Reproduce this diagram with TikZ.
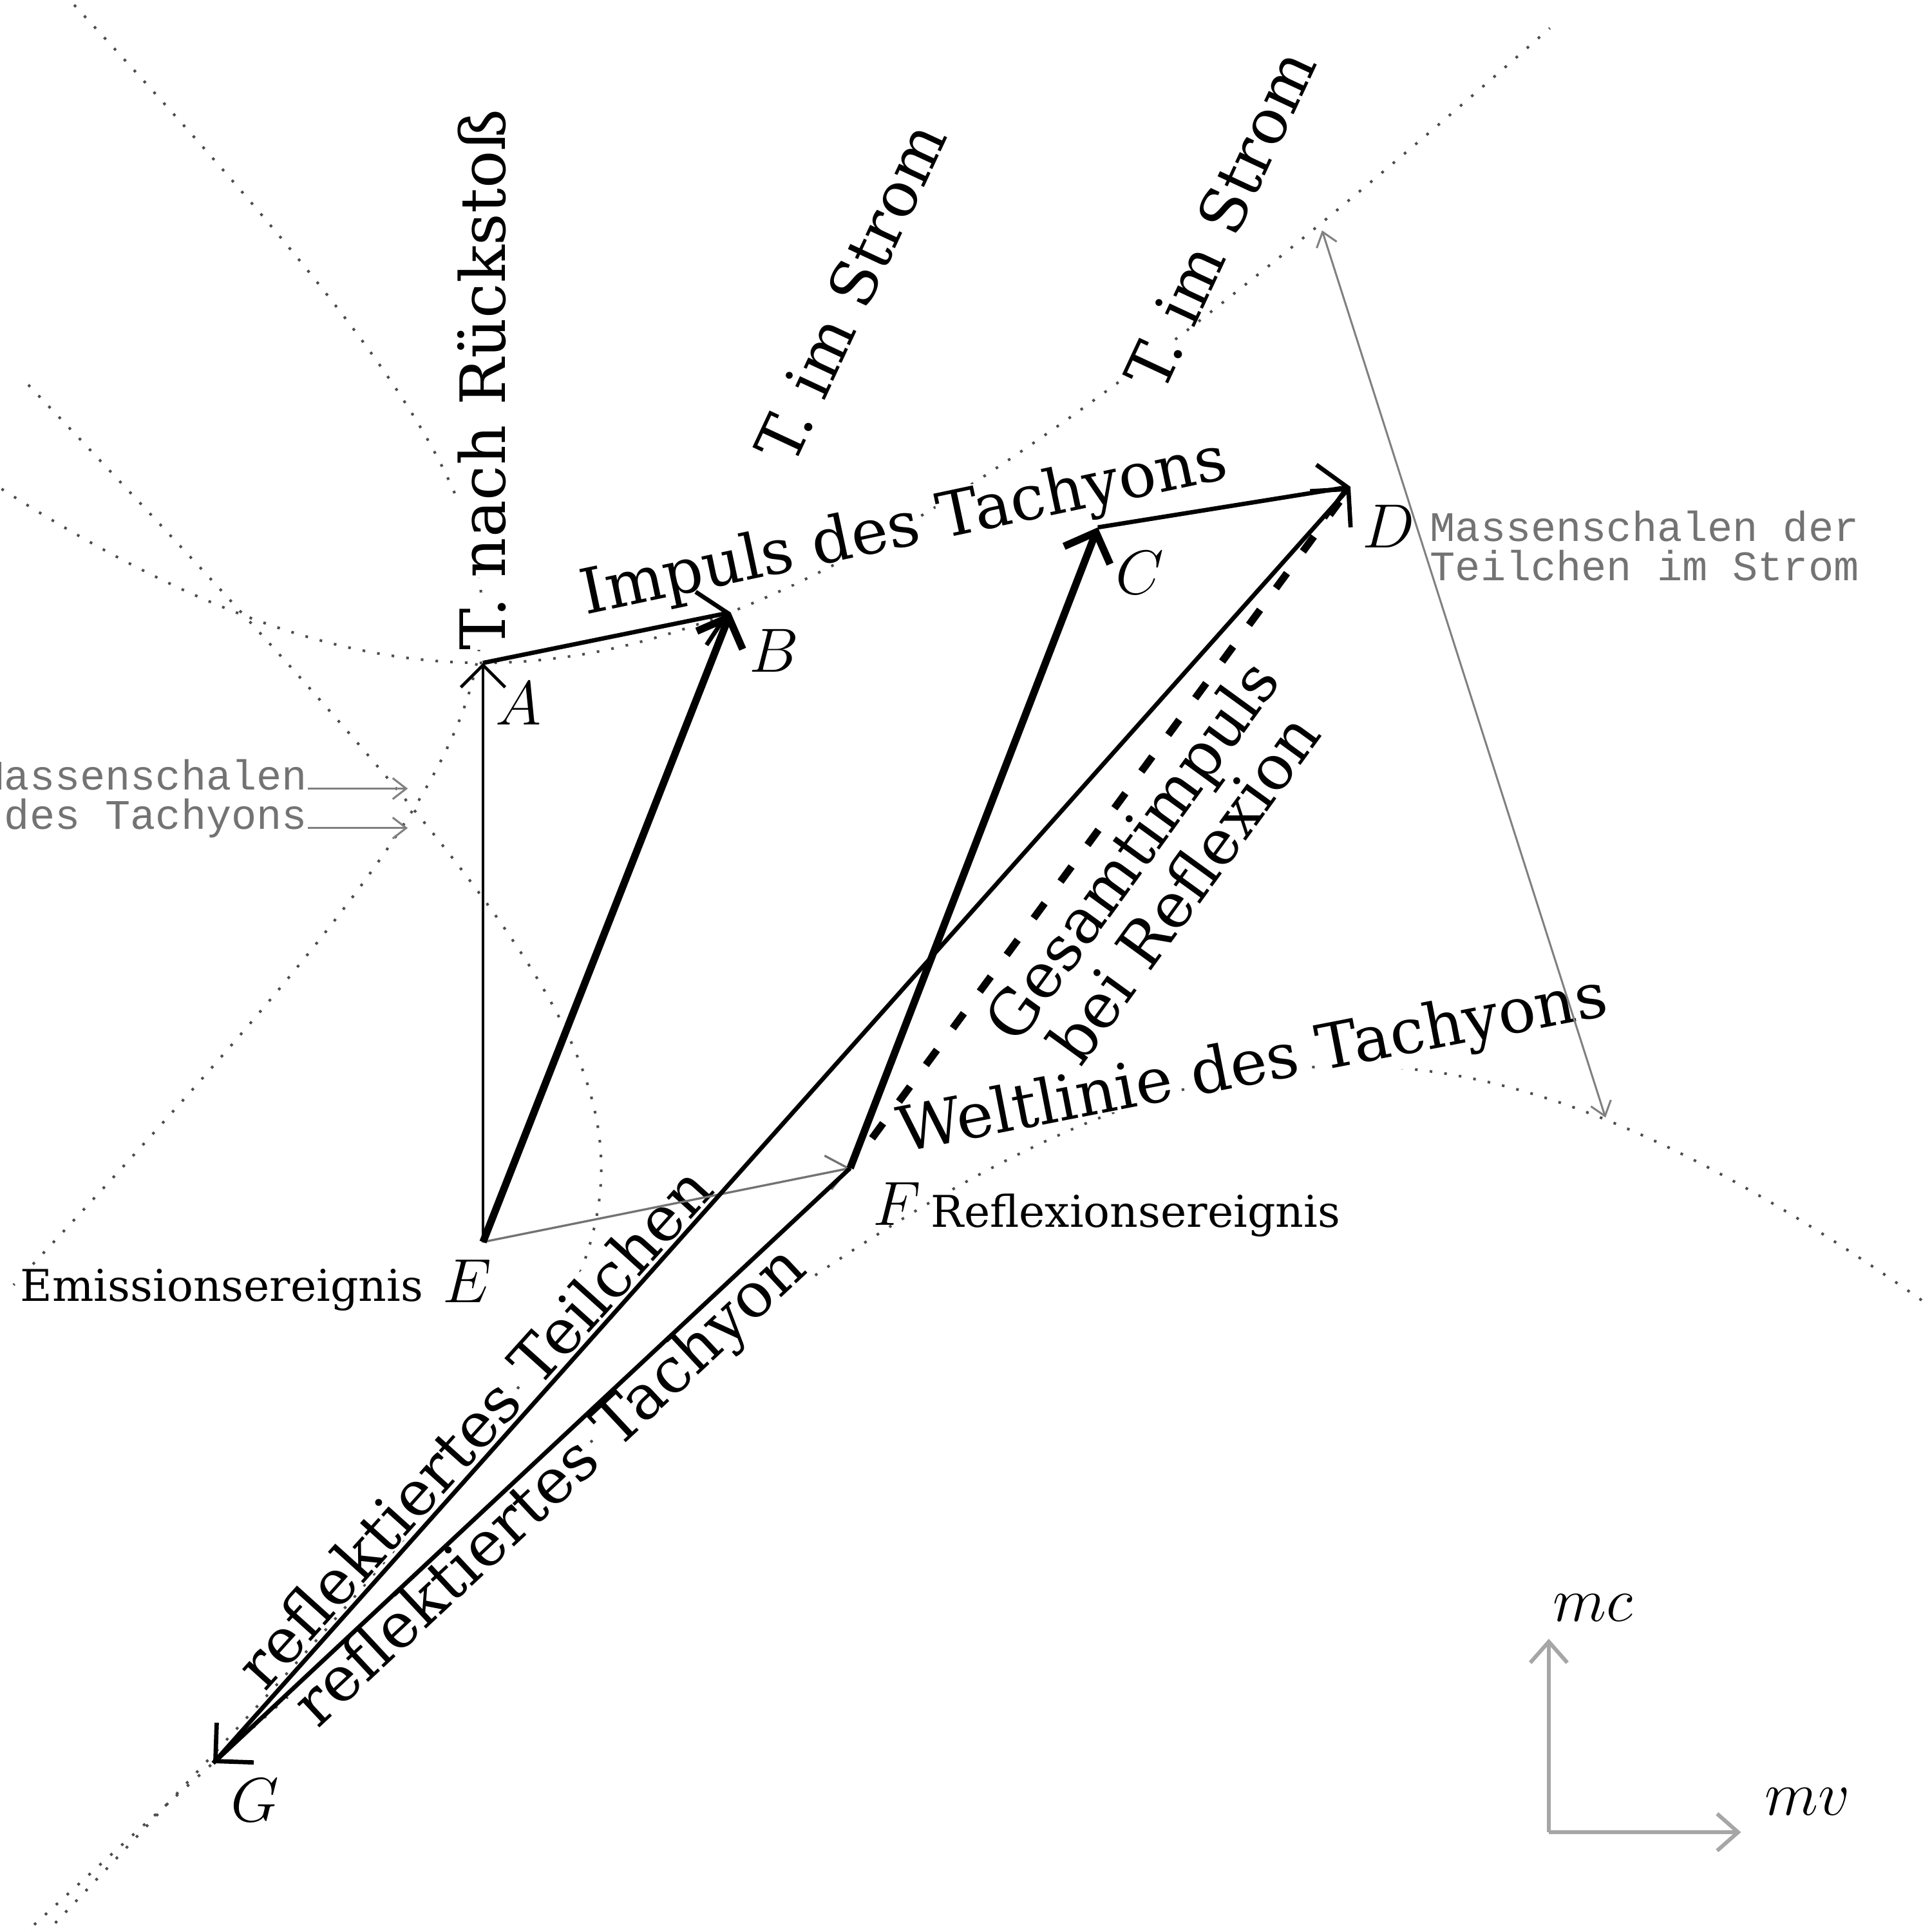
\documentclass[tikz,border=0pt]{standalone}
\usepackage{fontspec}
\newfontfamily\lblfont{DejaVu Serif}
\newfontfamily\grayfont{Liberation Mono}
\usetikzlibrary{arrows.meta,calc}
\newcommand{\wb}[1]{{\setlength{\fboxsep}{0pt}\colorbox{white}{#1}}}

\begin{document}
\begin{tikzpicture}[x=0.01cm,y=-0.01cm]
\tikzset{shell/.style={draw=black!70, line width=0.6pt, dash pattern=on 0.6pt off 2.8pt},
  biglbl/.style={font=\lblfont\fontsize{14.4}{13}\selectfont, inner sep=0pt},
  smalllbl/.style={font=\lblfont\fontsize{10.1}{11}\selectfont, inner sep=0pt},
  note/.style={font=\grayfont\fontsize{9.7}{9.1}\selectfont, text=black!55, inner sep=0pt},
  ptlbl/.style={font=\fontsize{14.4}{16}\selectfont, inner sep=0pt},
  vecthin/.style={line width=0.7pt, -{Straight Barb[length=1.8mm,width=3.6mm]}},
  vecmid/.style={line width=1pt, -{Straight Barb[length=2.2mm,width=4.4mm]}},
  vecthick/.style={line width=1.7pt, -{Straight Barb[length=2mm,width=4mm]}},
  gesamt/.style={line width=1.7pt, dash pattern=on 4.3pt off 6.2pt},
  weltlinie/.style={draw=black!55, line width=0.5pt, -{Straight Barb[length=1.7mm,width=2.8mm]}},
  pointer/.style={draw=black!50, line width=0.45pt, -{Straight Barb[length=1.1mm,width=1.7mm]}},
  axisarrow/.style={draw=black!35, line width=0.9pt, -{Straight Barb[length=1.7mm,width=3mm]}}}
\useasboundingbox (0,0) rectangle (1568,1568);
% Ereignisse und Impulspunkte
\coordinate (E) at (392,1008);
\coordinate (A) at (392,538);
\coordinate (B) at (593,497);
\coordinate (C) at (891,428);
\coordinate (D) at (1096,395);
\coordinate (F) at (690,948);
\coordinate (G) at (173,1431);
% Massenschalen
\draw[shell] plot[domain=-0.757:1.371, samples=70, smooth] ({392+470*sinh(\x)}, {1008-470*cosh(\x)});
\draw[shell] plot[domain=-1.567:0.884, samples=70, smooth] ({1096+470*sinh(\x)}, {395+470*cosh(\x)});
\draw[shell] plot[domain=-1.625:1.72, samples=70, smooth] ({593-202*cosh(\x)}, {497+202*sinh(\x)});
\draw[shell] plot[domain=-1.864:1.839, samples=80, smooth] ({690-202*cosh(\x)}, {948+202*sinh(\x)});
% Beschriftungen
\node[biglbl, rotate=90] (lRueck) at (391,308) {\wb{T.} \wb{nach} \wb{Rückstoß}};
\node[biglbl, rotate=65] (lStromB) at (690,237) {\wb{T.} \wb{im} \wb{Strom}};
\node[biglbl, rotate=65] (lStromC) at (990,178) {\wb{T.} \wb{im} \wb{Strom}};
\node[biglbl, rotate=12] (lImpuls) at (734,430) {\wb{Impuls} \wb{des} \wb{Tachyons}};
\node[biglbl, rotate=54, align=center] (lGesamt) at (939,705) {\wb{Gesamtimpuls}\\\wb{bei} \wb{Reflexion}};
\node[biglbl, rotate=11] (lWelt) at (1017,866) {\wb{Weltlinie} \wb{des} \wb{Tachyons}};
\node[biglbl, rotate=48] (lReflT) at (384,1158) {\wb{reflektiertes} \wb{Teilchen}};
\node[biglbl, rotate=43] (lReflTa) at (448,1208) {\wb{reflektiertes} \wb{Tachyon}};
\node[smalllbl, anchor=base west] (lRefEv) at (755,996) {\wb{Reflexionsereignis}};
\node[smalllbl, anchor=base west] (lEmEv) at (16,1056) {\wb{Emissionsereignis}};
\node[note, anchor=west, align=left] (lShellStrom) at (1160,443) {Massenschalen der\\Teilchen im Strom};
\node[note, anchor=east, align=right] (lShellTach) at (250,648) {Massenschalen\\des Tachyons};
% Hinweispfeile
\coordinate (msTop) at (1073,187);
\coordinate (msBot) at (1303,907);
\coordinate (msMid) at ($(msTop)!0.351!(msBot)$);
\draw[pointer] (msMid) -- (msTop);
\draw[pointer] (msMid) -- (msBot);
\coordinate (tsU) at (331,640);
\coordinate (tsL) at (331,672);
\draw[pointer] (lShellTach.east |- tsU) -- (tsU);
\draw[pointer] (lShellTach.east |- tsL) -- (tsL);
% Impulsvektoren
\draw[weltlinie] (E) -- (F);
\draw[vecthin] (E) -- (A);
\draw[vecmid] (A) -- (B);
\draw[vecthick] (E) -- (B);
\draw[vecthick] (F) -- (C);
\draw[vecmid] (C) -- (D);
\draw[gesamt, shorten <=3mm, shorten >=1.5mm] (F) -- (D);
\draw[vecmid] (G) -- (D);
\draw[vecmid] (F) -- (G);
% Punktnamen
\node[ptlbl] (nA) at (421,571) {$A$};
\node[ptlbl] (nB) at (628,528) {$B$};
\node[ptlbl] (nC) at (925,465) {$C$};
\node[ptlbl] (nD) at (1127,427) {$D$};
\node[ptlbl] (nE) at (379,1040) {$E$};
\node[ptlbl] (nF) at (728,977) {$F$};
\node[ptlbl] (nG) at (207,1461) {$G$};
% Achsen
\coordinate (O) at (1257,1487);
\coordinate (mcTip) at (1257,1330);
\coordinate (mvTip) at (1413,1487);
\draw[axisarrow] (O) -- (mcTip);
\draw[axisarrow] (O) -- (mvTip);
\node[ptlbl] (mc) at (1293,1305) {$mc$};
\node[ptlbl] (mv) at (1467,1462) {$mv$};
\end{tikzpicture}
\end{document}
